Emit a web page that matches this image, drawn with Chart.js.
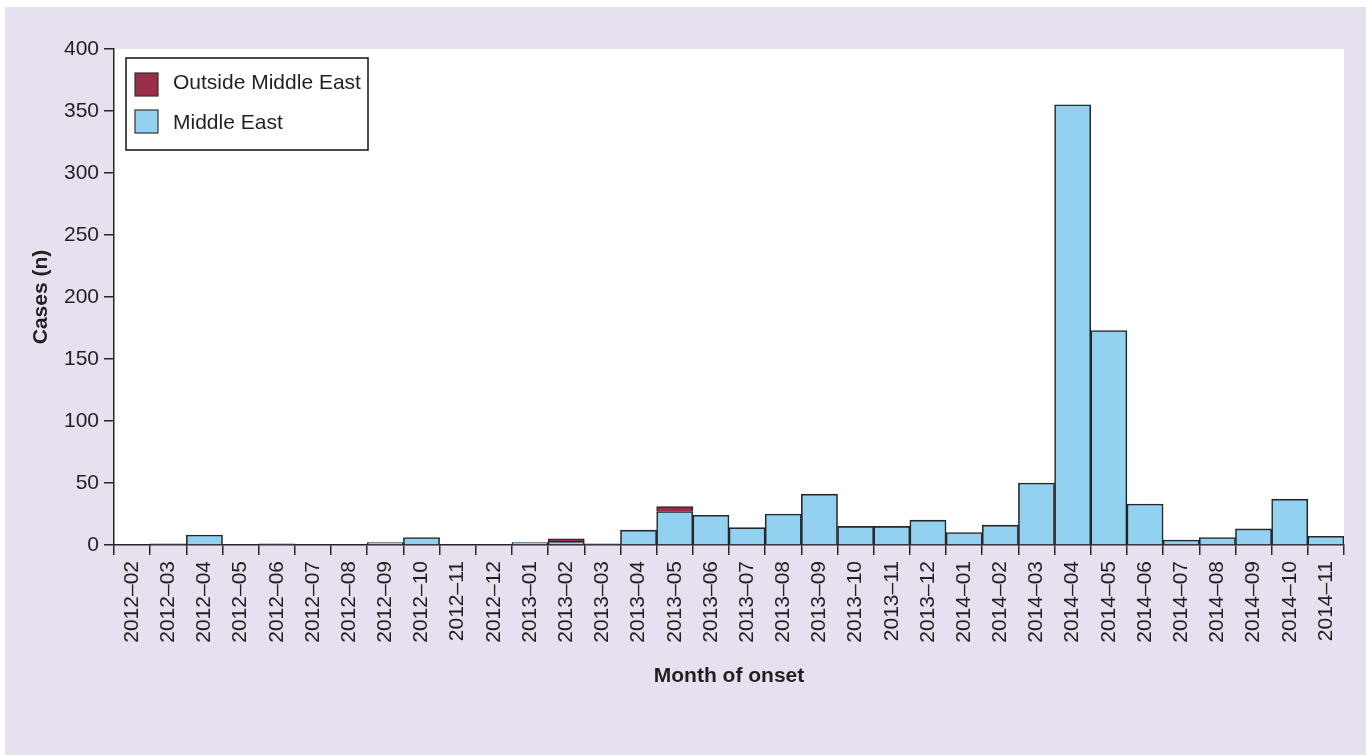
<!DOCTYPE html>
<html>
<head>
<meta charset="utf-8">
<script src="https://cdn.jsdelivr.net/npm/chart.js@4.4.1/dist/chart.umd.min.js"></script>
<style>
  html, body { margin: 0; padding: 0; background: #ffffff; }
  #wrap { position: absolute; left: 5px; top: 7px; width: 1361px; height: 748px; }
  canvas { display: block; }
</style>
</head>
<body>
<div id="wrap"><canvas id="c" width="1361" height="748"></canvas></div>
<script>
const months = ["2012–02","2012–03","2012–04","2012–05","2012–06","2012–07","2012–08","2012–09","2012–10","2012–11","2012–12",
  "2013–01","2013–02","2013–03","2013–04","2013–05","2013–06","2013–07","2013–08","2013–09","2013–10","2013–11","2013–12",
  "2014–01","2014–02","2014–03","2014–04","2014–05","2014–06","2014–07","2014–08","2014–09","2014–10","2014–11"];
const middleEast = [0,1,8,0,1,0,0,2,6,0,0,
  2,3,1,12,27,24,14,25,41,15,15,20,
  10,16,50,355,173,33,4,6,13,37,7];
const outsideMiddleEast = [0,0,0,0,0,0,0,0,0,0,0,
  0,2,0,0,4,0,0,0,0,0,0,0,
  0,0,0,0,0,0,0,0,0,0,0];
const yTicks = [0,50,100,150,200,250,300,350,400];

const FONT = "'Liberation Sans', Arial, Helvetica, sans-serif";
const TXT = '#231f20';
const LINE = '#262626';
const BLUE = '#93d1f1';
const RED = '#9b2f48';
const BG = '#e6e0ef';

const bgPlugin = {
  id: 'bg',
  beforeDraw(chart) {
    const {ctx, chartArea: a} = chart;
    ctx.save();
    ctx.fillStyle = BG;
    ctx.fillRect(0, 0, chart.width, chart.height);
    ctx.fillStyle = '#ffffff';
    ctx.fillRect(a.left, a.top, a.right - a.left, a.bottom - a.top);
    ctx.restore();
  }
};

const boxLegend = {
  id: 'boxLegend',
  afterDraw(chart) {
    const {ctx, chartArea: a} = chart;
    const x = a.left + 12, y = a.top + 9, w = 242, h = 92;
    ctx.save();
    ctx.fillStyle = '#ffffff';
    ctx.fillRect(x, y, w, h);
    ctx.strokeStyle = '#111111';
    ctx.lineWidth = 1.5;
    ctx.strokeRect(x, y, w, h);
    const items = [
      {label: chart.data.datasets[1].label, color: chart.data.datasets[1].backgroundColor},
      {label: chart.data.datasets[0].label, color: chart.data.datasets[0].backgroundColor}
    ];
    ctx.font = '21px ' + FONT;
    ctx.textBaseline = 'middle';
    items.forEach((it, i) => {
      const cy = y + 27 + i * 37;
      ctx.fillStyle = it.color;
      ctx.fillRect(x + 9, cy - 12, 23, 23);
      ctx.strokeStyle = '#333333';
      ctx.lineWidth = 1.2;
      ctx.strokeRect(x + 9, cy - 12, 23, 23);
      ctx.fillStyle = TXT;
      ctx.fillText(it.label, x + 47, y + 25 + i * 40);
    });
    ctx.restore();
  }
};

new Chart(document.getElementById('c'), {
  type: 'bar',
  data: {
    labels: months,
    datasets: [
      {label: 'Middle East', data: middleEast, backgroundColor: BLUE, borderColor: LINE, borderWidth: 1.6, borderSkipped: 'start'},
      {label: 'Outside Middle East', data: outsideMiddleEast, backgroundColor: RED, borderColor: LINE, borderWidth: 1.6, borderSkipped: 'start'}
    ]
  },
  options: {
    responsive: false,
    animation: false,
    devicePixelRatio: 1,
    layout: {padding: {top: 42, right: 22, left: 0, bottom: 0}},
    datasets: {bar: {barPercentage: 1, categoryPercentage: 1}},
    plugins: {legend: {display: false}, tooltip: {enabled: false}},
    scales: {
      x: {
        stacked: true,
        offset: true,
        grid: {offset: true, drawOnChartArea: false, drawTicks: true, tickLength: 10, color: LINE, lineWidth: 1.5},
        border: {display: true, color: LINE, width: 1.5},
        ticks: {minRotation: 90, maxRotation: 90, autoSkip: false, padding: 6, color: TXT, font: {family: FONT, size: 21}},
        title: {display: true, text: 'Month of onset', color: TXT, font: {family: FONT, size: 21, weight: 'bold'}, padding: {top: 0, bottom: 66}},
        afterFit(scale) { scale.height = 210; }
      },
      y: {
        stacked: true,
        min: 0, max: 400,
        afterBuildTicks(scale) { scale.ticks = yTicks.map(v => ({value: v})); },
        grid: {drawOnChartArea: false, drawTicks: true, tickLength: 10, color: LINE, lineWidth: 1.5},
        border: {display: true, color: LINE, width: 1.5},
        ticks: {padding: 5, color: TXT, font: {family: FONT, size: 21}},
        title: {display: true, text: 'Cases (n)', color: TXT, font: {family: FONT, size: 21, weight: 'bold'}, padding: {top: 24, bottom: 0}},
        afterFit(scale) { scale.width = 109; }
      }
    }
  },
  plugins: [bgPlugin, boxLegend]
});
</script>
</body>
</html>
